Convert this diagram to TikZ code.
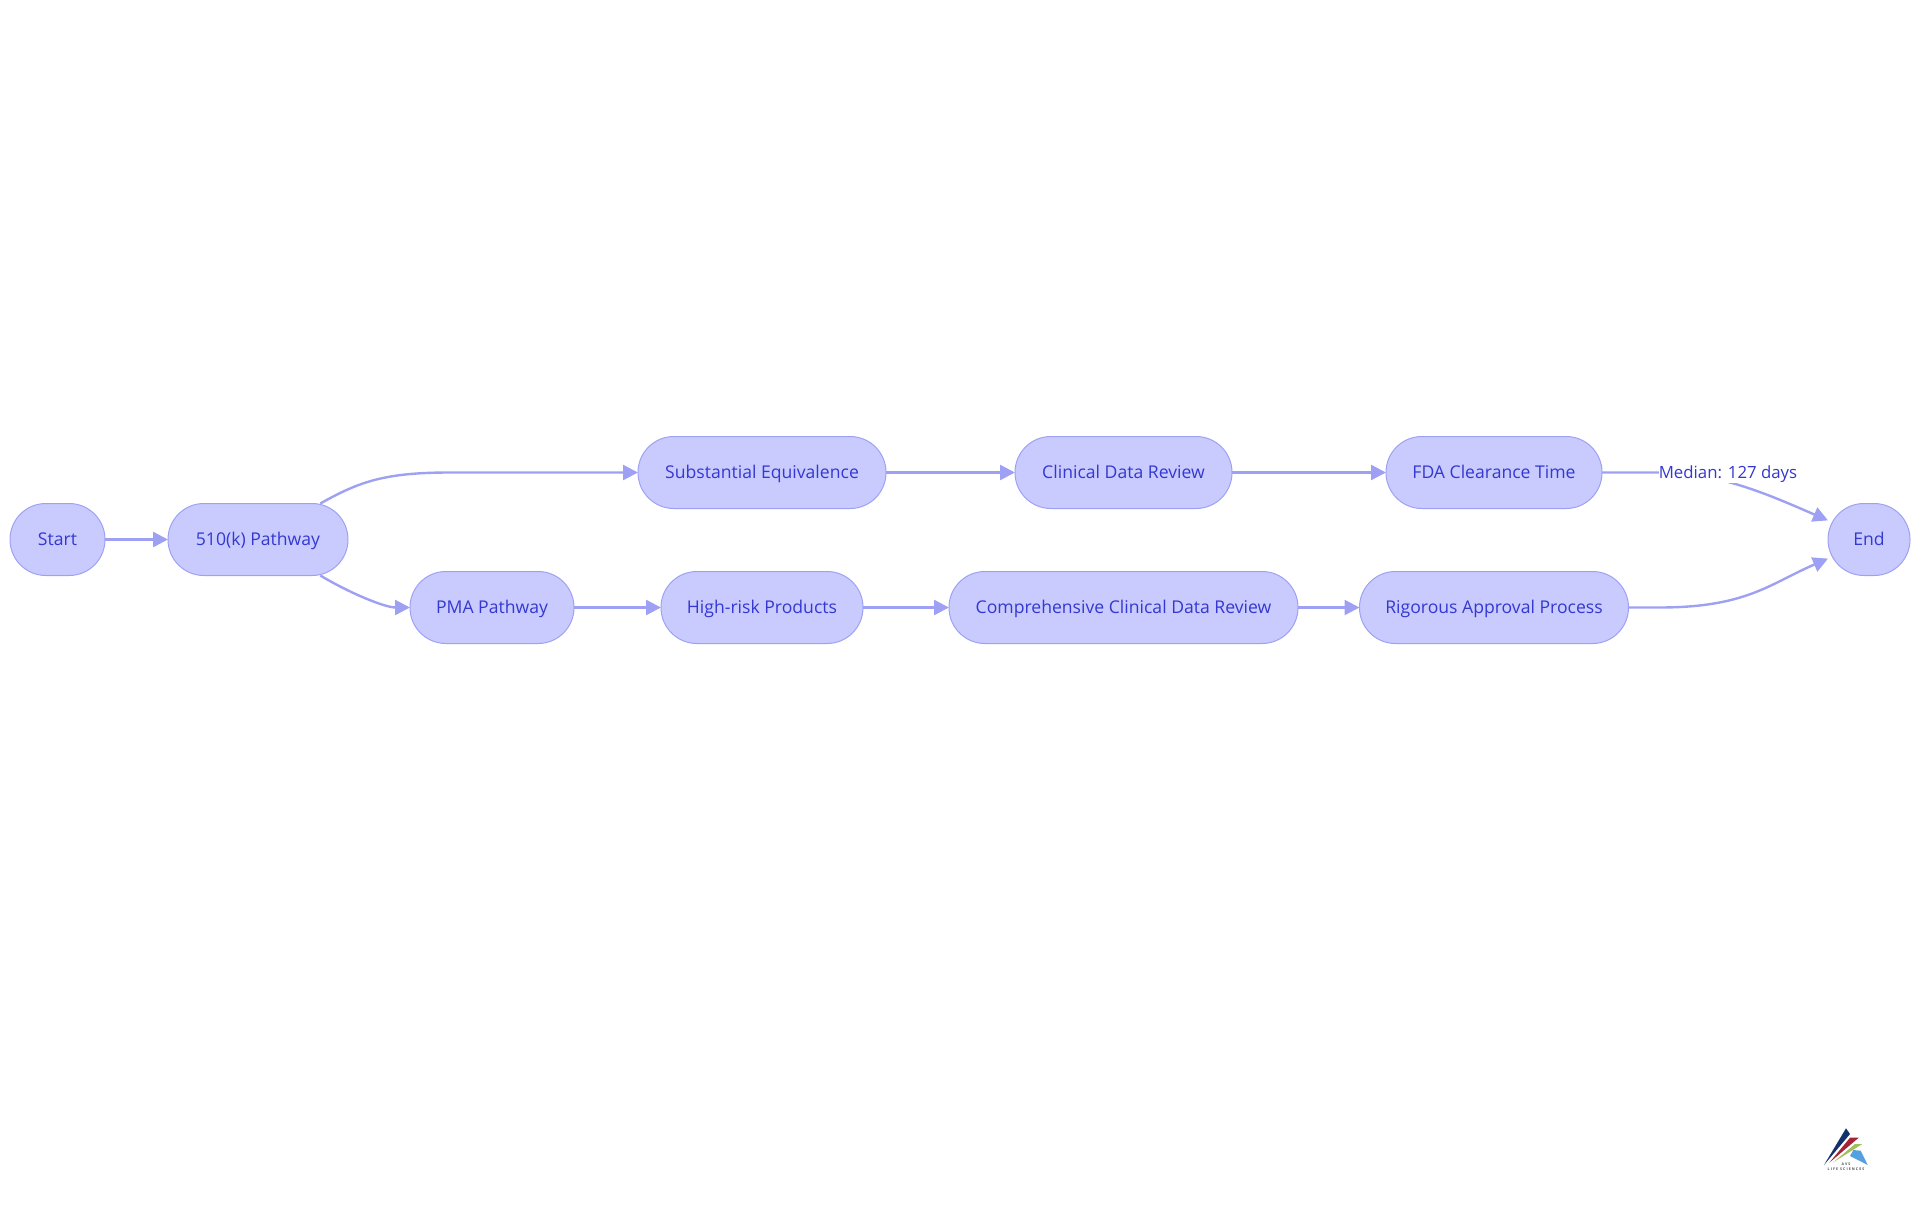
\documentclass[tikz,border=0pt]{standalone}
\usepackage{fontspec}
\setmainfont{Open Sans}
\newfontfamily\logofont[LetterSpace=30]{Open Sans}
\usetikzlibrary{arrows.meta,positioning}
\definecolor{pillfill}{RGB}{201,203,255}
\definecolor{flowline}{RGB}{158,161,243}
\definecolor{pilltext}{RGB}{52,56,208}
\tikzset{
	pill/.style={draw=flowline, fill=pillfill, line width=1pt, rounded corners=35.9pt, outer sep=0pt,
		minimum height=72pt, inner sep=0pt, text=pilltext, text height=15pt, text depth=3pt,
		font=\fontsize{17.6}{22}\selectfont},
	flow/.style={draw=flowline, line width=2.4pt, -{Triangle[length=15pt,width=15pt]}},
	edgelabel/.style={fill=white, inner sep=0pt, outer sep=0pt, minimum height=20pt, text=pilltext,
		text height=15pt, text depth=3pt, font=\fontsize{16.8}{22}\selectfont}
}

\begin{document}
\begin{tikzpicture}[x=1pt,y=1pt,node distance=2cm,on grid]
	\useasboundingbox (0,0) rectangle (1920,-1215);
	\node[pill, minimum width=95pt] (start) at (57.5,-539.5) {Start};
	\node[pill, minimum width=180pt] (path_k) [right=200.5pt of start] {510(k) Pathway};
	\node[pill, minimum width=248pt] (subst) [above right=67pt and 504pt of path_k] {Substantial Equivalence};
	\node[pill, minimum width=217pt] (clin) [right=361.5pt of subst] {Clinical Data Review};
	\node[pill, minimum width=216pt] (fda) [right=370.5pt of clin] {FDA Clearance Time};
	\node[pill, minimum width=164pt] (pma) [below right=68pt and 234pt of path_k] {PMA Pathway};
	\node[pill, minimum width=202pt] (risk) [right=270pt of pma] {High-risk Products};
	\node[pill, minimum width=349pt] (comp) [below=135pt of clin] {Comprehensive Clinical Data Review};
	\node[pill, minimum width=269pt] (rig) [below=135pt of fda] {Rigorous Approval Process};
	\node[pill, minimum width=82pt] (fin) [below right=67pt and 375pt of fda] {End};
	\path
	(start) edge[flow] (path_k)
	(subst) edge[flow] (clin)
	(clin) edge[flow] (fda)
	(pma) edge[flow] (risk)
	(risk) edge[flow] (comp)
	(comp) edge[flow] (rig);
	\draw[flow] (path_k.30) .. controls +(39,22) and +(-65,0) .. ([xshift=-188pt]subst.west) -- (subst);
	\draw[flow] (path_k.-30) .. controls +(30,-18) and +(-25,0) .. (pma.west);
	\draw[flow] (fda) -- ([xshift=58pt]fda.east) .. controls +(60,0) and +(-58,25) .. (fin.155);
	\draw[flow] (rig) -- ([xshift=31pt]rig.east) .. controls +(87,0) and +(-58,-25) .. (fin.205);
	\node[edgelabel] (median) [right=234pt of fda] {Median: 127 days};
	% logo
	\fill[fill={rgb,255:red,20;green,50;blue,105}] (1846,-1128.3) -- (1850,-1134) -- (1824,-1165) -- cycle;
	\fill[fill={rgb,255:red,165;green,35;blue,55}] (1850,-1137.7) -- (1858.7,-1137.7) -- (1829.3,-1162.7) -- cycle;
	\fill[fill={rgb,255:red,160;green,190;blue,90}] (1855,-1144) -- (1862.3,-1144) -- (1833.3,-1162.3) -- cycle;
	\fill[fill={rgb,255:red,85;green,160;blue,225}] (1853.3,-1150) -- (1860.7,-1150.7) -- (1867.7,-1165) -- (1850,-1156) -- cycle;
	\node[text=black!70, inner sep=0pt, font=\logofont\bfseries\fontsize{3.6}{4.6}\selectfont, align=center] (logo) at (1846,-1167) {AVS\\LIFE SCIENCES};
\end{tikzpicture}
\end{document}
